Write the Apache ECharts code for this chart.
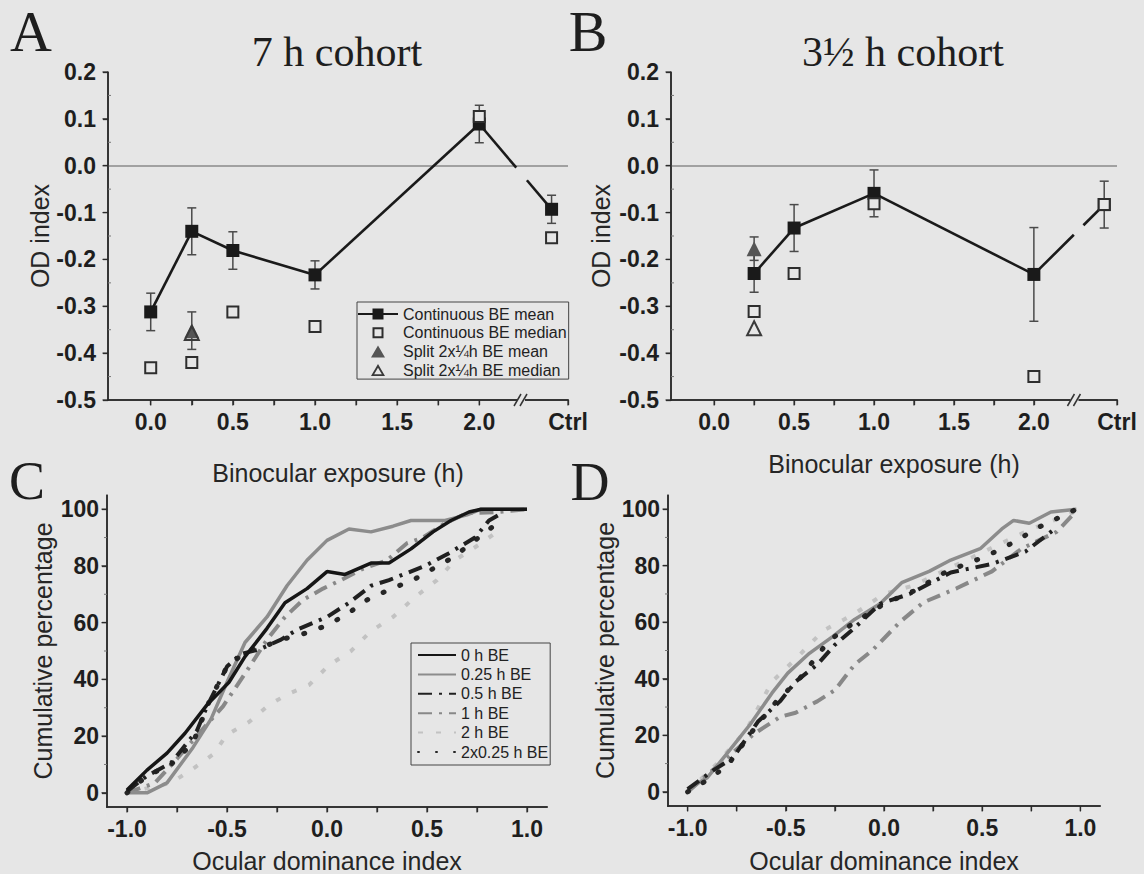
<!DOCTYPE html>
<html>
<head>
<meta charset="utf-8">
<script src="https://cdn.jsdelivr.net/npm/echarts@6/dist/echarts.min.js"></script>
<style>
html,body{margin:0;padding:0;background:#e6e6e6;}
#c{width:1144px;height:874px;}
</style>
</head>
<body>
<div id="c"></div>
<script>
// ---------- DATA ----------
// Panels A/B : OD index vs binocular exposure (h); "Ctrl" is plotted past the axis break
const CTRL_X = 2.44;
const A_x = [0, 0.25, 0.5, 1.0, 2.0, CTRL_X];
const A_mean = [-0.312, -0.14, -0.181, -0.233, 0.089, -0.093];
const A_mean_se = [0.04, 0.05, 0.04, 0.03, 0.04, 0.03];
const A_median = [-0.431, -0.42, -0.312, -0.343, 0.105, -0.154];
const A_split_x = [0.25];
const A_split_mean = [-0.352];
const A_split_se = [0.04];
const A_split_median = [-0.357];

const B_x = [0.25, 0.5, 1.0, 2.0, CTRL_X];
const B_mean = [-0.23, -0.133, -0.059, -0.232, -0.083];
const B_mean_se = [0.04, 0.05, 0.05, 0.1, 0.05];
const B_median = [-0.311, -0.23, -0.081, -0.45, -0.083];
const B_split_x = [0.25];
const B_split_mean = [-0.177];
const B_split_se = [0.025];
const B_split_median = [-0.347];

const AB_xLabels = [0, 0.5, 1.0, 1.5, 2.0];
const AB_xTicks = [0, 0.25, 0.5, 0.75, 1.0, 1.25, 1.5, 1.75, 2.0];
const AB_yTicks = [-0.5, -0.4, -0.3, -0.2, -0.1, 0.0, 0.1, 0.2];
const AB_yMinor = [-0.45, -0.35, -0.25, -0.15, -0.05, 0.05, 0.15];

// Panel C : 7 h cohort cumulative distributions
const C_0h_x   = [-1.0,-0.9,-0.8,-0.71,-0.6,-0.49,-0.41,-0.3,-0.21,-0.1,0.0,0.09,0.22,0.31,0.42,0.53,0.62,0.71,0.77,0.96,1.0];
const C_0h_y   = [1,8,14,21,31,39,48,58,67,72,78,77,81,81,86,92,96,99,100,100,100];
const C_025_x  = [-1.0,-0.9,-0.8,-0.67,-0.58,-0.5,-0.41,-0.3,-0.2,-0.1,0.0,0.11,0.22,0.33,0.42,0.59,0.7,0.77,1.0];
const C_025_y  = [0,0,3.5,16,26,39,53,62,73,82,89,93,92,94,96,96,98,100,100];
const C_05_x   = [-1.0,-0.9,-0.78,-0.65,-0.6,-0.5,-0.43,-0.34,-0.23,-0.15,0.0,0.11,0.22,0.31,0.4,0.49,0.61,0.74,0.81,0.86];
const C_05_y   = [0.5,6,10.5,22,30.5,44.5,49,50.5,54,57.5,62,67,73,75,77.5,80,84.5,90,96,98];
const C_1_x    = [-1.0,-0.86,-0.75,-0.64,-0.52,-0.41,-0.3,-0.21,-0.12,-0.02,0.07,0.18,0.3,0.4,0.48,0.59,0.7,0.85,1.0];
const C_1_y    = [0,3.5,12,21,30.5,42,54,62,68,72,75,79,82,88,90,95,98.6,99,100];
const C_2_x    = [-1.0,-0.78,-0.68,-0.57,-0.5,-0.39,-0.29,-0.19,-0.09,0.01,0.12,0.22,0.33,0.44,0.55,0.64,0.76,0.87];
const C_2_y    = [0,3.5,8,13.5,20.5,25,31,35,38,45,50,57,62,69,75,82,87.5,93];
const C_2x_x   = [-1.0,-0.9,-0.78,-0.67,-0.59,-0.5,-0.4,-0.3,-0.23,-0.12,0.0,0.1,0.2,0.31,0.43,0.52,0.63,0.74,0.85];
const C_2x_y   = [0,6,10,17.6,32,44.5,50,52,54,56,59,63,68,71.6,75,78.6,83,89,95];

// Panel D : 3.5 h cohort cumulative distributions
const D_025_x  = [-1.0,-0.9,-0.8,-0.68,-0.57,-0.49,-0.38,-0.26,-0.15,-0.02,0.09,0.23,0.34,0.49,0.6,0.66,0.74,0.85,0.98];
const D_025_y  = [1,5,13.5,24,35,42,49,55,61,66.5,74,78,82,86,93,96,95,99,100];
const D_05_x   = [-1.0,-0.87,-0.77,-0.64,-0.53,-0.45,-0.34,-0.25,-0.15,-0.02,0.13,0.34,0.55,0.72,0.87];
const D_05_y   = [1,7.6,12,25,32,39,45,52,58,66.5,70,77.6,80.6,85,93];
const D_1_x    = [-1.0,-0.85,-0.66,-0.53,-0.45,-0.34,-0.25,-0.15,-0.06,0.08,0.2,0.37,0.55,0.7,0.88,0.98];
const D_1_y    = [0,9,20.6,26.5,28,32,36,45,50,60,67,72,78,86,92,99.4];
const D_2_x    = [-1.0,-0.85,-0.7,-0.57,-0.45,-0.31,-0.15,0.0,0.15,0.3,0.45,0.6,0.75,0.9,1.0];
const D_2_y    = [0,10,22,39,47,57,63,70,73,78,83,88,93,97,100];
const D_2x_x   = [-1.0,-0.88,-0.79,-0.66,-0.55,-0.43,-0.28,-0.17,0.0,0.15,0.32,0.47,0.57,0.68,0.77,0.89,0.98];
const D_2x_y   = [0,5,10,22.4,31.8,40,53.5,59,66.5,71,78,82,85,89,93,97,100];

const CD_xLabels = [-1.0, -0.5, 0.0, 0.5, 1.0];
const CD_xTicks = [-1.0,-0.75,-0.5,-0.25,0,0.25,0.5,0.75,1.0];
const CD_yLabels = [0, 20, 40, 60, 80, 100];
const CD_yMinor = [10, 30, 50, 70, 90];

// ---------- STYLE ----------
const BG = '#e6e6e6';
const INK = '#1a1a1a';
const AXC = '#2a2a2a';
const SANS = '"Liberation Sans", Arial, sans-serif';
const SERIF = '"Liberation Serif", "Times New Roman", serif';
const BREAK_X = 2.26;
const GAP_A = [2.225, 2.29];
const GAP_B = [2.25, 2.31];
const RANGE = {
  A: {x: [-0.26, 2.54], y: [-0.5, 0.2]},
  B: {x: [-0.27, 2.52], y: [-0.5, 0.2]},
  C: {x: [-1.1, 1.1], y: [-5, 105]},
  D: {x: [-1.1, 1.1], y: [-5, 105]}
};

const pairs = (xs, ys) => xs.map((x, i) => [x, ys[i]]);
const triples = (xs, ys, es) => xs.map((x, i) => [x, ys[i], es[i]]);

const tickLabel = {fontFamily: SANS, fontWeight: 'bold', fontSize: 23, color: '#1e1e1e'};
const axisNameStyle = {fontFamily: SANS, fontSize: 25, color: '#262626'};
const axLine = () => ({show: true, onZero: false, lineStyle: {color: AXC, width: 1.5}});
const tickSt = () => ({color: '#333', width: 1.3});

function abX(gi, r, gap) {
  return {
    type: 'value', gridIndex: gi, min: r.x[0], max: r.x[1], position: 'bottom',
    axisLine: axLine(), splitLine: {show: false},
    axisTick: {show: true, length: 5, lineStyle: tickSt(), customValues: AB_xTicks.concat([r.x[1]])},
    axisLabel: Object.assign({}, tickLabel, {show: true, margin: 10,
      customValues: AB_xLabels.concat([r.x[1]]),
      formatter: v => (v > 2.3 ? 'Ctrl' : Number(v).toFixed(1))}),
    name: 'Binocular exposure (h)', nameLocation: 'middle', nameGap: gap,
    nameTextStyle: axisNameStyle
  };
}
function abY(gi, r, gap) {
  return {
    type: 'value', gridIndex: gi, min: r.y[0], max: r.y[1], interval: 0.1, position: 'left',
    axisLine: axLine(), splitLine: {show: false},
    axisTick: {show: true, length: 5, lineStyle: tickSt()},
    axisLabel: Object.assign({}, tickLabel, {margin: 12,
      formatter: v => Number(v).toFixed(1)}),
    name: 'OD index', nameLocation: 'middle', nameGap: gap, nameRotate: 90,
    nameTextStyle: axisNameStyle
  };
}
function cdX(gi, r, gap) {
  return {
    type: 'value', gridIndex: gi, min: r.x[0], max: r.x[1], position: 'bottom',
    axisLine: axLine(), splitLine: {show: false},
    axisTick: {show: true, length: 5, lineStyle: tickSt(), customValues: CD_xTicks},
    axisLabel: Object.assign({}, tickLabel, {margin: 10, customValues: CD_xLabels,
      formatter: v => Number(v).toFixed(1)}),
    name: 'Ocular dominance index', nameLocation: 'middle', nameGap: gap,
    nameTextStyle: axisNameStyle
  };
}
function cdY(gi, r, gap) {
  return {
    type: 'value', gridIndex: gi, min: r.y[0], max: r.y[1], position: 'left',
    axisLine: axLine(), splitLine: {show: false},
    axisTick: {show: true, length: 5, lineStyle: tickSt(), customValues: CD_yLabels},
    axisLabel: Object.assign({}, tickLabel, {margin: 8, customValues: CD_yLabels}),
    name: 'Cumulative percentage', nameLocation: 'middle', nameGap: gap, nameRotate: 90,
    nameTextStyle: axisNameStyle
  };
}

// axis frame (left + bottom) and ticks as thin filled bars, placed through the axis scales
function axesFrame(gi, r, xTicks, yTicks, yMinor, minorInside) {
  return {
    type: 'custom', xAxisIndex: gi, yAxisIndex: gi, z: 20, zlevel: 0, silent: true, clip: false,
    data: [[r.x[0], r.y[0]]], encode: {x: 0, y: 1},
    renderItem: function (params, api) {
      const o = api.coord([r.x[0], r.y[0]]);
      const xe = api.coord([r.x[1], r.y[0]]);
      const ye = api.coord([r.x[0], r.y[1]]);
      const f = {fill: AXC};
      const kids = [
        {type: 'rect', shape: {x: o[0] - 0.75, y: o[1] - 0.75, width: xe[0] - o[0] + 1.5, height: 1.5}, style: f},
        {type: 'rect', shape: {x: o[0] - 0.75, y: ye[1], width: 1.5, height: o[1] - ye[1] + 0.75}, style: f}
      ];
      xTicks.forEach(v => {
        const p = api.coord([v, r.y[0]]);
        kids.push({type: 'rect', shape: {x: p[0] - 0.6, y: p[1], width: 1.2, height: 5.5}, style: f});
      });
      yTicks.forEach(v => {
        const p = api.coord([r.x[0], v]);
        kids.push({type: 'rect', shape: {x: p[0] - 5.5, y: p[1] - 0.6, width: 5.5, height: 1.2}, style: f});
      });
      yMinor.forEach(v => {
        const p = api.coord([r.x[0], v]);
        const x0 = minorInside ? p[0] : p[0] - 3;
        kids.push({type: 'rect', shape: {x: x0, y: p[1] - 0.5, width: 3, height: 1}, style: {fill: '#777'}});
      });
      return {type: 'group', children: kids};
    }
  };
}

function errSeries(gi, data) {
  return {
    type: 'custom', xAxisIndex: gi, yAxisIndex: gi, z: 3, silent: true,
    data: data, encode: {x: 0, y: 1},
    renderItem: function (params, api) {
      const x = api.value(0), y = api.value(1), e = api.value(2);
      const t = api.coord([x, y + e]), b = api.coord([x, y - e]);
      const w = 4.5, st = {stroke: '#4a4a4a', lineWidth: 1.5};
      return {type: 'group', children: [
        {type: 'line', shape: {x1: t[0], y1: t[1], x2: b[0], y2: b[1]}, style: st},
        {type: 'line', shape: {x1: t[0] - w, y1: t[1], x2: t[0] + w, y2: t[1]}, style: st},
        {type: 'line', shape: {x1: b[0] - w, y1: b[1], x2: b[0] + w, y2: b[1]}, style: st}
      ]};
    }
  };
}
function meanLine(gi, data, gap) {
  return {
    type: 'custom', xAxisIndex: gi, yAxisIndex: gi, z: 4, silent: true,
    data: data, encode: {x: 0, y: 1},
    markLine: {silent: true, symbol: 'none', label: {show: false}, z: 1,
      lineStyle: {color: '#8a8a8a', width: 1.6, type: 'solid'}, data: [{yAxis: 0}]},
    renderItem: function (params, api) {
      const i = params.dataIndex;
      if (i === 0) return null;
      const p0 = api.coord(data[i - 1]), p1 = api.coord([api.value(0), api.value(1)]);
      const st = {stroke: INK, lineWidth: 2.6};
      const g0 = api.coord([gap[0], 0])[0], g1 = api.coord([gap[1], 0])[0];
      if (p0[0] < g0 && p1[0] > g1) {
        const f = xx => p0[1] + (p1[1] - p0[1]) * (xx - p0[0]) / (p1[0] - p0[0]);
        return {type: 'group', children: [
          {type: 'line', shape: {x1: p0[0], y1: p0[1], x2: g0, y2: f(g0)}, style: st},
          {type: 'line', shape: {x1: g1, y1: f(g1), x2: p1[0], y2: p1[1]}, style: st}
        ]};
      }
      return {type: 'line', shape: {x1: p0[0], y1: p0[1], x2: p1[0], y2: p1[1]}, style: st};
    }
  };
}
function breakMark(gi) {
  return {
    type: 'custom', xAxisIndex: gi, yAxisIndex: gi, z: 30, silent: true,
    data: [[BREAK_X, -0.5]], encode: {x: 0, y: 1}, clip: false,
    renderItem: function (params, api) {
      const p = api.coord([api.value(0), api.value(1)]);
      const st = {stroke: '#333', lineWidth: 1.5};
      return {type: 'group', children: [
        {type: 'rect', shape: {x: p[0] - 5, y: p[1] - 2, width: 8, height: 4}, style: {fill: BG}},
        {type: 'line', shape: {x1: p[0] - 8, y1: p[1] + 6, x2: p[0] - 1, y2: p[1] - 6}, style: st},
        {type: 'line', shape: {x1: p[0] - 2, y1: p[1] + 6, x2: p[0] + 5, y2: p[1] - 6}, style: st}
      ]};
    }
  };
}
function meanPts(gi, data) {
  return {name: 'Continuous BE mean', type: 'scatter', xAxisIndex: gi, yAxisIndex: gi, z: 5,
    symbol: 'rect', symbolSize: 13, itemStyle: {color: INK, opacity: 1}, data: data};
}
function medPts(gi, data) {
  return {name: 'Continuous BE median', type: 'scatter', xAxisIndex: gi, yAxisIndex: gi, z: 6,
    symbol: 'rect', symbolSize: 11, itemStyle: {color: BG, borderColor: '#2e2e2e', borderWidth: 2, opacity: 1}, data: data};
}
function splitMean(gi, data) {
  return {name: 'Split 2x¼h BE mean', type: 'scatter', xAxisIndex: gi, yAxisIndex: gi, z: 5,
    symbol: 'triangle', symbolSize: 15, itemStyle: {color: '#555', opacity: 1}, data: data};
}
function splitMed(gi, data) {
  return {name: 'Split 2x¼h BE median', type: 'scatter', xAxisIndex: gi, yAxisIndex: gi, z: 6,
    symbol: 'triangle', symbolSize: 14, itemStyle: {color: 'rgba(0,0,0,0)', borderColor: '#3a3a3a', borderWidth: 2, opacity: 1}, data: data};
}

const cumStyles = {
  '0 h BE':      {color: '#161616', width: 3.5, type: 'solid'},
  '0.25 h BE':   {color: '#8c8c8c', width: 3.5, type: 'solid'},
  '0.5 h BE':    {color: '#202020', width: 4, type: [14, 7, 3, 7]},
  '1 h BE':      {color: '#888888', width: 4, type: [14, 7, 3, 7]},
  '2 h BE':      {color: '#c2c2c2', width: 4, type: [5, 13]},
  '2x0.25 h BE': {color: '#262626', width: 5, type: [1, 17], cap: 'round'}
};
function cum(gi, name, xs, ys, z) {
  const s = cumStyles[name];
  return {name: name, type: 'line', xAxisIndex: gi, yAxisIndex: gi, z: z, symbol: 'none',
    showSymbol: false, silent: true, data: pairs(xs, ys), color: s.color,
    lineStyle: {color: s.color, width: s.width, type: s.type, cap: s.cap || 'butt'}};
}

// legend icons (bounding box pinned to the 40x12 icon cell)
const ANCH = 'M0,0h0.01v0.01h-0.01z M39.99,11.99h0.01v0.01h-0.01z ';
const ICON_MEAN = 'path://' + ANCH + 'M0,5h40v2H0z M14.5,0.5h11v11h-11z';
const ICON_MED = 'path://' + ANCH + 'M14.5,0.5h11v11h-11z M16.5,2.5v7h7v-7z';
const ICON_TRI = 'path://' + ANCH + 'M20,0 L27,12 L13,12z';
const ICON_OTRI = 'path://' + ANCH + 'M20,0 L27,12 L13,12z M20,3.6 L16.15,10.2 L23.85,10.2z';

const chart = echarts.init(document.getElementById('c'), null, {renderer: 'svg'});
chart.setOption({
  backgroundColor: BG,
  animation: false,
  grid: [
    {left: 108, top: 72, width: 460, height: 328, outerBoundsMode: 'none'},
    {left: 671, top: 72, width: 446, height: 328, outerBoundsMode: 'none'},
    {left: 107, top: 495, width: 440, height: 312, outerBoundsMode: 'none'},
    {left: 668, top: 495, width: 432, height: 311, outerBoundsMode: 'none'}
  ],
  xAxis: [abX(0, RANGE.A, 60), abX(1, RANGE.B, 51), cdX(2, RANGE.C, 41), cdX(3, RANGE.D, 42)],
  yAxis: [abY(0, RANGE.A, 54), abY(1, RANGE.B, 58), cdY(2, RANGE.C, 52), cdY(3, RANGE.D, 51)],
  legend: [
    {
      orient: 'vertical', left: 357, top: 302, itemWidth: 40, itemHeight: 12, itemGap: 2.7,
      padding: [4, 2, 1, 1], borderColor: '#444', borderWidth: 1, backgroundColor: BG,
      textStyle: {fontFamily: SANS, fontSize: 16, color: '#222'}, selectedMode: false,
      data: [
        {name: 'Continuous BE mean', icon: ICON_MEAN, itemStyle: {color: INK, borderWidth: 0}},
        {name: 'Continuous BE median', icon: ICON_MED, itemStyle: {color: '#2e2e2e', borderWidth: 0}},
        {name: 'Split 2x¼h BE mean', icon: ICON_TRI, itemStyle: {color: '#555', borderWidth: 0}},
        {name: 'Split 2x¼h BE median', icon: ICON_OTRI, itemStyle: {color: '#3a3a3a', borderWidth: 0}}
      ]
    },
    {
      orient: 'vertical', left: 411, top: 643, itemWidth: 38, itemHeight: 14, itemGap: 3.4,
      padding: [4, 2, 5, 6], borderColor: '#444', borderWidth: 1, backgroundColor: BG,
      textStyle: {fontFamily: SANS, fontSize: 16, color: '#222'}, selectedMode: false,
      itemStyle: {color: 'rgba(0,0,0,0)', borderWidth: 0, opacity: 0},
      data: ['0 h BE', '0.25 h BE', '0.5 h BE', '1 h BE', '2 h BE', '2x0.25 h BE']
    }
  ],
  graphic: [
    {type: 'text', style: {x: 31, y: 31, text: 'A', font: '58px ' + SERIF, lineHeight: 40, fill: '#1e1e1e', textAlign: 'center', textVerticalAlign: 'middle'}},
    {type: 'text', style: {x: 588, y: 31, text: 'B', font: '58px ' + SERIF, lineHeight: 40, fill: '#1e1e1e', textAlign: 'center', textVerticalAlign: 'middle'}},
    {type: 'text', style: {x: 27, y: 481, text: 'C', font: '54px ' + SERIF, lineHeight: 40, fill: '#1e1e1e', textAlign: 'center', textVerticalAlign: 'middle'}},
    {type: 'text', style: {x: 590, y: 482, text: 'D', font: '54px ' + SERIF, lineHeight: 40, fill: '#1e1e1e', textAlign: 'center', textVerticalAlign: 'middle'}},
    {type: 'text', style: {x: 337, y: 52, text: '7 h cohort', font: '42px ' + SERIF, fill: '#1e1e1e', textAlign: 'center', textVerticalAlign: 'middle'}},
    {type: 'text', style: {x: 903, y: 52, text: '3½ h cohort', font: '42px ' + SERIF, fill: '#1e1e1e', textAlign: 'center', textVerticalAlign: 'middle'}}
  ],
  series: [
    // Panel A
    meanLine(0, pairs(A_x, A_mean), GAP_A),
    errSeries(0, triples(A_x, A_mean, A_mean_se)),
    errSeries(0, triples(A_split_x, A_split_mean, A_split_se)),
    meanPts(0, pairs(A_x, A_mean)),
    splitMean(0, pairs(A_split_x, A_split_mean)),
    medPts(0, pairs(A_x, A_median)),
    splitMed(0, pairs(A_split_x, A_split_median)),
    // Panel B
    meanLine(1, pairs(B_x, B_mean), GAP_B),
    errSeries(1, triples(B_x, B_mean, B_mean_se)),
    errSeries(1, triples(B_split_x, B_split_mean, B_split_se)),
    meanPts(1, pairs(B_x, B_mean)),
    splitMean(1, pairs(B_split_x, B_split_mean)),
    medPts(1, pairs(B_x, B_median)),
    splitMed(1, pairs(B_split_x, B_split_median)),
    // Panel C
    cum(2, '2 h BE', C_2_x, C_2_y, 2),
    cum(2, '1 h BE', C_1_x, C_1_y, 3),
    cum(2, '0.25 h BE', C_025_x, C_025_y, 4),
    cum(2, '2x0.25 h BE', C_2x_x, C_2x_y, 5),
    cum(2, '0.5 h BE', C_05_x, C_05_y, 6),
    cum(2, '0 h BE', C_0h_x, C_0h_y, 7),
    // Panel D
    cum(3, '2 h BE', D_2_x, D_2_y, 2),
    cum(3, '1 h BE', D_1_x, D_1_y, 3),
    cum(3, '0.25 h BE', D_025_x, D_025_y, 4),
    cum(3, '2x0.25 h BE', D_2x_x, D_2x_y, 5),
    cum(3, '0.5 h BE', D_05_x, D_05_y, 6),
    // axes frames drawn last, then the axis-break marks
    axesFrame(0, RANGE.A, AB_xTicks.concat([RANGE.A.x[1]]), AB_yTicks, AB_yMinor, true),
    axesFrame(1, RANGE.B, AB_xTicks.concat([RANGE.B.x[1]]), AB_yTicks, AB_yMinor, true),
    axesFrame(2, RANGE.C, CD_xTicks, CD_yLabels, CD_yMinor, false),
    axesFrame(3, RANGE.D, CD_xTicks, CD_yLabels, CD_yMinor, false),
    breakMark(0),
    breakMark(1)
  ]
});
</script>
</body>
</html>
